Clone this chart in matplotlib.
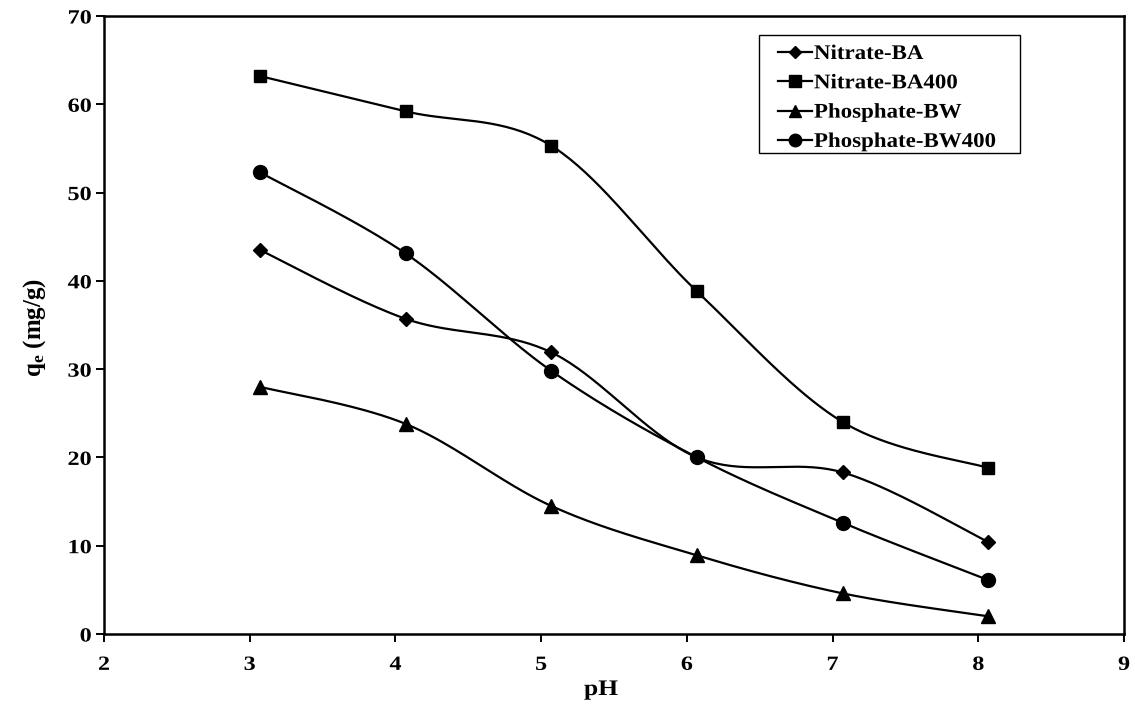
import numpy as np
import matplotlib
matplotlib.use("Agg")
import matplotlib.pyplot as plt
from matplotlib.lines import Line2D
from matplotlib.patches import Rectangle
from matplotlib.patheffects import AbstractPathEffect
from matplotlib.transforms import Affine2D

plt.rcParams["font.family"] = ["Liberation Serif", "DejaVu Serif"]
plt.rcParams["font.weight"] = "bold"
plt.rcParams["mathtext.fontset"] = "custom"
plt.rcParams["mathtext.rm"] = "Liberation Serif:bold"
plt.rcParams["mathtext.it"] = "Liberation Serif:italic:bold"
plt.rcParams["mathtext.bf"] = "Liberation Serif:bold"

# pH values and adsorption capacities (mg/g)
ph = [3.07, 4.07, 5.07, 6.07, 7.07, 8.07]
nitrate_ba = [43.5, 35.7, 31.9, 20.0, 18.3, 10.4]
nitrate_ba400 = [63.2, 59.2, 55.3, 38.8, 24.0, 18.8]
phosphate_bw = [28.0, 23.8, 14.5, 8.9, 4.6, 2.0]
phosphate_bw400 = [52.3, 43.1, 29.8, 20.0, 12.6, 6.1]

series_names = ["Nitrate-BA", "Nitrate-BA400", "Phosphate-BW", "Phosphate-BW400"]
series_values = [nitrate_ba, nitrate_ba400, phosphate_bw, phosphate_bw400]
markers = ["D", "s", "^", "o"]
marker_sizes = [7, 9, 10, 10]

x_ticks = [2, 3, 4, 5, 6, 7, 8, 9]
y_ticks = [0, 10, 20, 30, 40, 50, 60, 70]

W, H = 1135, 711


class Widen(AbstractPathEffect):
    """Draw text glyphs stretched horizontally about an anchor fraction of their width."""

    def __init__(self, sx=1.2, anchor=0.0):
        super().__init__()
        self.sx = sx
        self.anchor = anchor

    def draw_path(self, renderer, gc, tpath, affine, rgbFace=None):
        ext = tpath.get_extents()
        x0 = ext.x0 + self.anchor * (ext.x1 - ext.x0)
        t = Affine2D().translate(-x0, 0).scale(self.sx, 1).translate(x0, 0) + affine
        renderer.draw_path(gc, tpath, t, rgbFace)


def smooth_curve(x, y, n=40):
    """Cubic Bezier smoothing through every point (Catmull-Rom control points)."""
    p = np.column_stack([x, y]).astype(float)
    ext = np.vstack([p[0], p, p[-1]])
    out = []
    t = np.linspace(0, 1, n)[:, None]
    for i in range(len(p) - 1):
        p0, p1, p2, p3 = ext[i], ext[i + 1], ext[i + 2], ext[i + 3]
        c1 = p1 + (p2 - p0) / 6.0
        c2 = p2 - (p3 - p1) / 6.0
        seg = ((1 - t) ** 3) * p1 + 3 * ((1 - t) ** 2) * t * c1 \
            + 3 * (1 - t) * t ** 2 * c2 + t ** 3 * p2
        out.append(seg if i == 0 else seg[1:])
    s = np.vstack(out)
    return s[:, 0], s[:, 1]


def fx(px):
    return px / W


def fy(py):
    return 1 - py / H


fig = plt.figure(figsize=(W / 100, H / 100), dpi=100)
ax = fig.add_axes([fx(104), fy(634), (1124 - 104) / W, (634 - 16) / H])

for vals, mk, ms in zip(series_values, markers, marker_sizes):
    sx, sy = smooth_curve(ph, vals)
    ax.plot(sx, sy, color="black", lw=1.6, zorder=2)
    ax.plot(ph, vals, linestyle="none", marker=mk, ms=ms, color="black", zorder=3)

ax.set_xlim(2, 9)
ax.set_ylim(0, 70)
ax.set_xticks(x_ticks, labels=[str(v) for v in x_ticks])
ax.set_yticks(y_ticks, labels=[str(v) for v in y_ticks])
ax.tick_params(axis="x", direction="out", length=6, width=1.4, labelsize=14.5, pad=9)
ax.tick_params(axis="y", direction="out", length=6, width=1.4, labelsize=14.5, pad=3)
for lbl in ax.get_xticklabels():
    lbl.set_fontweight("bold")
    lbl.set_path_effects([Widen(1.2, 0.5)])
for lbl in ax.get_yticklabels():
    lbl.set_fontweight("bold")
    lbl.set_path_effects([Widen(1.2, 1.0)])
for sp in ax.spines.values():
    sp.set_linewidth(1.8)
    sp.set_color("black")

fig.text(fx(601), fy(695), "pH", fontsize=16, fontweight="bold", ha="center",
         va="baseline", path_effects=[Widen(1.15, 0.5)])
fig.text(fx(35), fy(327), r"q$_{\mathrm{e}}$ (mg/g)", fontsize=18, fontweight="bold",
         rotation=90, ha="center", va="center")

# legend box
fig.add_artist(Rectangle((fx(759), fy(153)), (1020 - 759) / W, (153 - 35) / H,
                         transform=fig.transFigure, fill=False, edgecolor="black", lw=1.0))
for i, (name, mk, ms) in enumerate(zip(series_names, markers, marker_sizes)):
    yc = 52 + 29.3 * i
    fig.add_artist(Line2D([fx(778), fx(812)], [fy(yc), fy(yc)], color="black", lw=1.6,
                          transform=fig.transFigure))
    fig.add_artist(Line2D([fx(795)], [fy(yc)], color="black", marker=mk, ms=ms * 0.9,
                          linestyle="none", transform=fig.transFigure))
    fig.text(fx(814), fy(yc + 7), name, fontsize=15, fontweight="bold", ha="left",
             va="baseline", path_effects=[Widen(1.1, 0.0)])

fig.savefig("out.png", dpi=100, facecolor="white")
